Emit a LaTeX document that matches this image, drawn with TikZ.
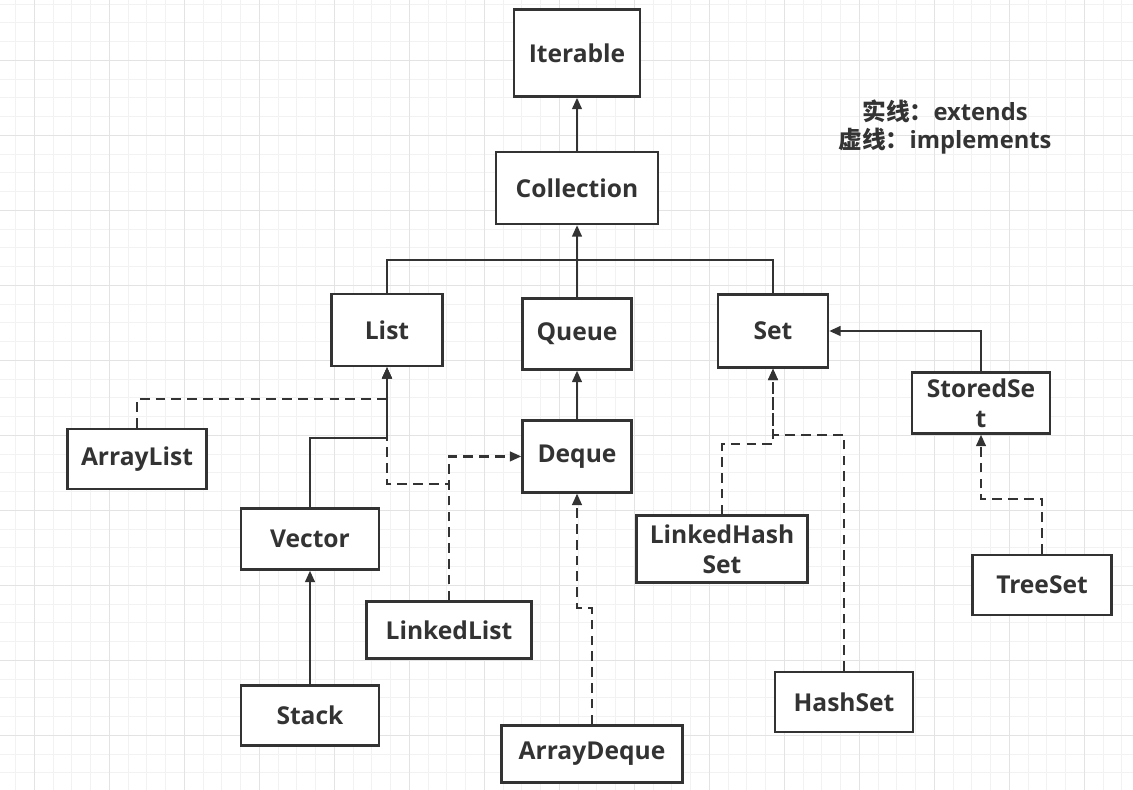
\documentclass[tikz,border=0pt]{standalone}
\usepackage{fontspec}
\setmainfont{Open Sans}
\newfontfamily\cjk{Noto Sans CJK SC}
\usetikzlibrary{positioning, calc, arrows.meta}
\definecolor{ink}{HTML}{333333}
\definecolor{gridminor}{HTML}{F2F2F2}
\definecolor{gridmajor}{HTML}{E3E3E3}

\begin{document}
\begin{tikzpicture}[
  x=0.02cm, y=-0.02cm,
  %% caixas das classes / interfaces
  cbox/.style={
    rectangle, draw=ink, line width=1.4pt,
    fill=white, text=ink, inner sep=0pt, align=center,
    font=\fontsize{14}{17}\selectfont\bfseries
  },
  %% setas: extends (cheia) e implements (tracejada)
  ext/.style={-{Triangle[length=6.5pt,width=5.5pt]}, draw=ink, line width=1.25pt},
  impl/.style={ext, dash pattern=on 5.5pt off 3.5pt},
  link/.style={draw=ink, line width=1.1pt},
  %% legenda
  legend/.style={text=ink, align=center,
    font=\fontsize{13.5}{16}\selectfont\bfseries}
]

%% ================================================================
%% FUNDO QUADRICULADO
%% ================================================================
\useasboundingbox (0,0) rectangle (1133,790);
\fill[white] (0,0) rectangle (1133,790);
\foreach \i in {0,...,59}
  \draw[gridminor, line width=0.6pt] (15.6+18.75*\i,0) -- (15.6+18.75*\i,790);
\foreach \j in {0,...,41}
  \draw[gridminor, line width=0.6pt] (0,4.1+18.75*\j) -- (1133,4.1+18.75*\j);
\foreach \i in {0,...,14}
  \draw[gridmajor, line width=0.6pt] (34.35+75*\i,0) -- (34.35+75*\i,790);
\foreach \j in {0,...,9}
  \draw[gridmajor, line width=0.6pt] (0,60.3+75*\j) -- (1133,60.3+75*\j);

%% ================================================================
%% TOPO — Iterable / Collection
%% ================================================================
\node[cbox, minimum width=3.24cm, minimum height=1.44cm] (collection) at (577,188) {Collection};
\node[cbox, minimum width=2.52cm, minimum height=1.74cm,
      above=1.06cm of collection] (iterable) {Iterable};

%% ================================================================
%% INTERFACES — List / Queue / Set
%% ================================================================
\node[cbox, minimum width=2.22cm, minimum height=1.44cm] (list)  at (387,330) {List};
\node[cbox, minimum width=2.18cm, minimum height=1.42cm] (queue) at (577,334) {Queue};
\node[cbox, minimum width=2.2cm,  minimum height=1.46cm] (set)   at (773,331) {Set};

\node[cbox, minimum width=2.18cm, minimum height=1.44cm,
      below=0.97cm of queue] (deque) {Deque};
\node[cbox, minimum width=2.76cm, minimum height=1.22cm] (storedset) at (981,403) {StoredSe\\t};

%% ================================================================
%% IMPLEMENTAÇÕES
%% ================================================================
\node[cbox, minimum width=2.78cm, minimum height=1.2cm]  (arraylist)  at (137,459) {ArrayList};
\node[cbox, minimum width=2.76cm, minimum height=1.22cm] (vector)     at (310,539) {Vector};
\node[cbox, minimum width=2.76cm, minimum height=1.2cm,
      below=2.27cm of vector] (stack) {Stack};
\node[cbox, minimum width=3.3cm,  minimum height=1.14cm] (linkedlist) at (449,630) {LinkedList};
\node[cbox, minimum width=3.62cm, minimum height=1.14cm] (arraydeque) at (592,754) {ArrayDeque};
\node[cbox, minimum width=3.42cm, minimum height=1.34cm] (linkedhashset) at (722,549) {LinkedHash\\Set};
\node[cbox, minimum width=2.76cm, minimum height=1.2cm]  (hashset)    at (844,702) {HashSet};
\node[cbox, minimum width=2.78cm, minimum height=1.2cm]  (treeset)    at (1042,585) {TreeSet};

%% pontos de dobra
\coordinate (bus)     at (577,260);
\coordinate (albend)  at (387,399);
\coordinate (vbend)   at (387,438);
\coordinate (llbend)  at (387,484);
\coordinate (adbend)  at (577,608);
\coordinate (lhsbend) at (773,444);
\coordinate (hsbend)  at (773,435);
\coordinate (tsbend)  at (981,499);

%% ================================================================
%% SETAS — implements (tracejadas)
%% ================================================================
\draw[impl] (arraylist.north) |- (albend) -- (list.south);
\draw[impl] (linkedlist.north) |- (llbend) -- (list.south);
\draw[impl] (linkedlist.north) |- (deque.west);
\draw[impl] (arraydeque.north) |- (adbend) -- (deque.south);
\draw[impl] (linkedhashset.north) |- (lhsbend) -- (set.south);
\draw[impl] (hashset.north) |- (hsbend) -- (set.south);
\draw[impl] (treeset.north) |- (tsbend) -- (storedset.south);

%% ================================================================
%% SETAS — extends (cheias)
%% ================================================================
\draw[ext] (collection) -- (iterable);
\draw[link] (list.north) |- (bus) -| (set.north);
\draw[ext] (queue.north) -- (collection.south);
\draw[ext] (deque) -- (queue);
\draw[ext] (vector.north) |- (vbend) -- (list.south);
\draw[ext] (stack) -- (vector);
\draw[ext] (storedset.north) |- (set.east);

%% ================================================================
%% LEGENDA
%% ================================================================
\node[legend] (key) at (945,127) {{\cjk 实线：}extends\\{\cjk 虚线：}implements};

\end{tikzpicture}
\end{document}
